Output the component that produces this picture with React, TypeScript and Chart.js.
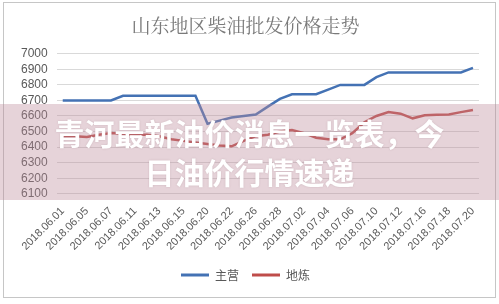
import React, { useEffect, useRef } from "react";
import { Chart, registerables } from "chart.js";

Chart.register(...registerables);

const chartTitle = "山东地区柴油批发价格走势";
const seriesNames = ["主营", "地炼"];
const bannerLines = ["青河最新油价消息一览表，今", "日油价行情速递"];

const categories = [
  "2018.06.01", "2018.06.04", "2018.06.05", "2018.06.06", "2018.06.07",
  "2018.06.08", "2018.06.11", "2018.06.12", "2018.06.13", "2018.06.14",
  "2018.06.15", "2018.06.19", "2018.06.20", "2018.06.21", "2018.06.22",
  "2018.06.25", "2018.06.26", "2018.06.27", "2018.06.28", "2018.06.29",
  "2018.07.02", "2018.07.03", "2018.07.04", "2018.07.05", "2018.07.06",
  "2018.07.09", "2018.07.10", "2018.07.11", "2018.07.12", "2018.07.13",
  "2018.07.16", "2018.07.17", "2018.07.18", "2018.07.19", "2018.07.20",
];

const mainPrices = [
  6700, 6700, 6700, 6700, 6700,
  6730, 6730, 6730, 6730, 6730,
  6730, 6730, 6550, 6570, 6590,
  6600, 6610, 6660, 6710, 6740,
  6740, 6740, 6770, 6800, 6800,
  6800, 6850, 6880, 6880, 6880,
  6880, 6880, 6880, 6880, 6910,
];

const localPrices = [
  6470, 6470, 6465, 6480, 6490,
  6485, 6480, 6480, 6470, 6450,
  6440, 6430, 6420, 6410, 6405,
  6440, 6470, 6480, 6500, 6510,
  6490, 6460, 6450, 6450, 6490,
  6560, 6600, 6625, 6615, 6585,
  6605, 6608, 6610, 6625, 6638,
];

const yMin = 6100;
const yMax = 7000;
const yStep = 100;

export default function App() {
  const canvasRef = useRef<HTMLCanvasElement | null>(null);

  useEffect(() => {
    document.body.style.margin = "0";
    const canvas = canvasRef.current;
    if (!canvas) return;
    const chart = new Chart(canvas, {
      type: "line",
      data: {
        labels: categories,
        datasets: [
          {
            label: seriesNames[0],
            data: mainPrices,
            borderColor: "#4472b4",
            backgroundColor: "#4472b4",
            borderWidth: 2.5,
            pointRadius: 0,
            tension: 0,
            fill: false,
          },
          {
            label: seriesNames[1],
            data: localPrices,
            borderColor: "#bf4d4a",
            backgroundColor: "#bf4d4a",
            borderWidth: 2.5,
            pointRadius: 0,
            tension: 0,
            fill: false,
          },
        ],
      },
      options: {
        animation: false,
        responsive: false,
        devicePixelRatio: 1,
        layout: { padding: { left: 12, right: 20, top: 12, bottom: 13 } },
        plugins: {
          title: {
            display: true,
            text: chartTitle,
            color: "#7a7a7a",
            font: { size: 19, family: "'Noto Serif CJK SC', 'Noto Sans CJK SC', serif", weight: "normal" },
            padding: { top: 2, bottom: 17 },
          },
          legend: {
            position: "bottom",
            labels: {
              boxWidth: 28,
              boxHeight: 3,
              color: "#595959",
              font: { size: 12, family: "'Noto Sans CJK SC', sans-serif" },
              padding: 13,
              generateLabels: (c: any) =>
                Chart.defaults.plugins.legend.labels
                  .generateLabels(c)
                  .map((l: any) => ({ ...l, lineWidth: 0, fillStyle: l.strokeStyle })),
            },
          },
          tooltip: { enabled: false },
        },
        scales: {
          x: {
            offset: true,
            grid: { display: false },
            border: { display: false },
            ticks: {
              autoSkip: false,
              minRotation: 45,
              maxRotation: 45,
              color: "#595959",
              font: { size: 11, family: "'Liberation Sans', sans-serif" },
              padding: 3,
              callback: (_v: any, i: number) => (i % 2 === 0 ? categories[i] : ""),
            },
          },
          y: {
            min: yMin,
            max: yMax,
            grid: { color: "#d9d9d9", drawTicks: false, lineWidth: 1 },
            border: { display: false },
            ticks: {
              stepSize: yStep,
              autoSkip: false,
              padding: 9,
              color: "#595959",
              font: { size: 12, family: "'Liberation Sans', sans-serif" },
              callback: (v: any) => String(v),
            },
          },
        },
      },
    });
    return () => chart.destroy();
  }, []);

  return (
    <div style={{ position: "relative", width: 499, height: 304, background: "#ffffff", overflow: "hidden" }}>
      <canvas ref={canvasRef} width={499} height={304} style={{ position: "absolute", left: 0, top: 0 }} />
      <div
        style={{
          position: "absolute",
          left: 3,
          top: 2,
          width: 491,
          height: 294,
          border: "1px solid #c6c6c6",
          pointerEvents: "none",
        }}
      />
      <div
        style={{
          position: "absolute",
          left: 0,
          top: 104,
          width: 499,
          height: 96,
          background: "rgba(190, 140, 155, 0.38)",
          display: "flex",
          flexDirection: "column",
          alignItems: "center",
          justifyContent: "center",
          color: "#ffffff",
          fontFamily: "'Noto Sans CJK SC', sans-serif",
          fontWeight: 700,
          fontSize: 30,
          lineHeight: "39px",
          textShadow: "0 0 2px rgba(120, 80, 90, 0.25)",
        }}
      >
        <div>{bannerLines[0]}</div>
        <div>{bannerLines[1]}</div>
      </div>
    </div>
  );
}
